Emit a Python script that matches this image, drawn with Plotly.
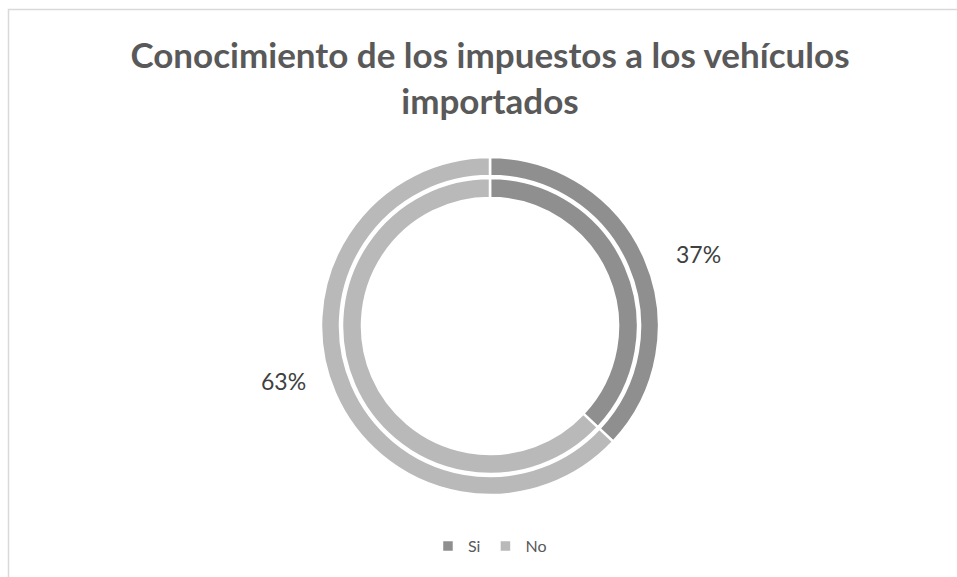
import plotly.graph_objects as go

categories = ["Si", "No"]
values = [37, 63]
colors = ["#8f8f8f", "#b9b9b9"]
title_text = "Conocimiento de los impuestos a los vehículos<br>importados"

W, H = 957, 577
cx, cy = 490, 326
R_outer = 169
R_inner = 148

def dom(r):
    return dict(x=[(cx - r) / W, (cx + r) / W], y=[1 - (cy + r) / H, 1 - (cy - r) / H])

fig = go.Figure()
fig.add_trace(go.Pie(
    labels=categories, values=values, sort=False, direction="clockwise", rotation=0,
    hole=150 / R_outer, domain=dom(R_outer),
    marker=dict(colors=colors, line=dict(color="white", width=2.5)),
    textinfo="none", hoverinfo="label+percent", showlegend=True,
))
fig.add_trace(go.Pie(
    labels=categories, values=values, sort=False, direction="clockwise", rotation=0,
    hole=128 / R_inner, domain=dom(R_inner),
    marker=dict(colors=colors, line=dict(color="white", width=2.5)),
    textinfo="none", hoverinfo="label+percent", showlegend=False,
))

label_pos = [(698 / W, 1 - 254 / H), (283 / W, 1 - 381 / H)]
for v, (x, y) in zip(values, label_pos):
    fig.add_annotation(x=x, y=y, xref="paper", yref="paper", text=f"{v}%",
                       xanchor="center", yanchor="middle", showarrow=False,
                       font=dict(family="Lato, Open Sans, sans-serif", size=23, color="#404040"))

fig.add_shape(type="rect", xref="paper", yref="paper",
              x0=8.5 / W, x1=1.05, y0=-0.05, y1=1 - 9.5 / H,
              line=dict(color="#d9d9d9", width=1.5), fillcolor="rgba(0,0,0,0)")

fig.update_layout(
    width=W, height=H,
    margin=dict(l=0, r=0, t=0, b=0),
    paper_bgcolor="white", plot_bgcolor="white",
    title=dict(text=title_text, x=0.512, xanchor="center", y=1 - 68 / H, yanchor="middle",
               font=dict(family="Lato, Open Sans, sans-serif", size=35, color="#595959", weight="bold")),
    legend=dict(orientation="h", x=0.512, xanchor="center", y=1 - 546 / H, yanchor="middle",
                font=dict(family="Lato, Open Sans, sans-serif", size=16, color="#595959"),
                itemwidth=30, traceorder="normal"),
)

fig.write_html("out.html")
